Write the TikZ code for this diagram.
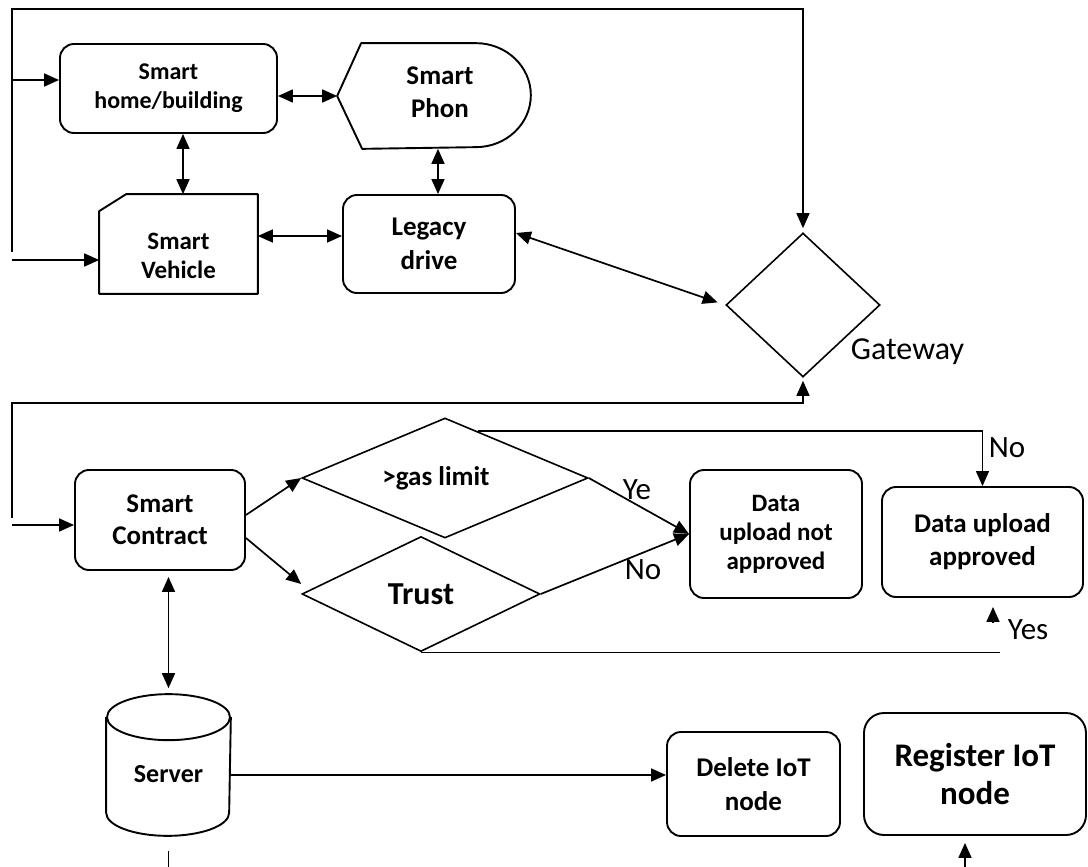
\documentclass[tikz,border=0pt]{standalone}
\usepackage{fontspec}
\setmainfont{Carlito}
\usetikzlibrary{arrows.meta,shapes.geometric,calc}

\begin{document}
\begin{tikzpicture}[x=1pt,y=-1pt,
  line width=1.7pt,
  >={Triangle[length=15pt,width=13pt]},
  rbox/.style={draw, rounded corners=14pt, align=center, inner sep=0pt, line width=1.9pt},
  frame/.style={inner sep=0pt, align=center},
  outline/.style={line width=1.9pt, line join=round},
  txt/.style={inner sep=0pt, align=center},
  lbl/.style={font=\fontsize{31}{36}\selectfont, inner sep=0pt},
  dia/.style={draw, diamond, inner sep=0pt, line width=1.6pt},
  loop/.style={line width=1.4pt},
]
\useasboundingbox (0,0) rectangle (1088,867);

% ---------- upper device cluster ----------
\node[rbox, minimum width=217pt, minimum height=89pt,
      font=\fontsize{24}{29}\selectfont\bfseries] (home) at (168.5,88.5) {Smart\\home/building};

\node[frame, minimum width=192pt, minimum height=104pt] (phone) at (434,96) {};
\draw[outline] (phone.west) -- ([xshift=24pt]phone.north west) -- ([xshift=-55pt]phone.north east)
  arc[start angle=90, end angle=-90, x radius=55pt, y radius=52pt]
  -- ([xshift=25pt]phone.south west) -- cycle;
\node[txt, font=\fontsize{27}{33}\selectfont\bfseries] at (440,92) {Smart\\Phon};

\node[frame, minimum width=157pt, minimum height=98pt] (veh) at (178.5,244) {};
\draw[outline] (veh.south west) -- ([yshift=-17pt]veh.north west) -- ([xshift=27pt]veh.north west)
  -- (veh.north east) -- (veh.south east) -- cycle;
\node[txt, font=\fontsize{25}{29}\selectfont\bfseries] at ([yshift=-12pt]veh.center) {Smart\\Vehicle};

\node[rbox, minimum width=172pt, minimum height=98pt,
      font=\fontsize{27}{34}\selectfont\bfseries] (legacy) at (429,244) {Legacy\\drive};

\node[dia, minimum width=154pt, minimum height=144pt] (gw) at (803,305) {};
\node[lbl, font=\fontsize{32}{38}\selectfont, anchor=west] at (850,352) {Gateway};

% ---------- decision stage ----------
\node[rbox, minimum width=170pt, minimum height=100pt,
      font=\fontsize{27}{32}\selectfont\bfseries] (contract) at (160,520) {Smart\\Contract};

\node[dia, minimum width=286pt, minimum height=120pt] (gas) at (445,478) {};
\node[txt, font=\fontsize{27}{32}\selectfont\bfseries] at ([xshift=-9pt]gas.center) {>gas limit};
\node[dia, minimum width=238pt, minimum height=115pt,
      font=\fontsize{32}{38}\selectfont\bfseries] (trust) at (421,594) {Trust};

\node[rbox, minimum width=172pt, minimum height=128pt,
      font=\fontsize{25}{29}\selectfont\bfseries] (nap) at (776,534) {Data\\upload not\\approved};
\node[rbox, minimum width=201pt, minimum height=110pt,
      font=\fontsize{27}{33}\selectfont\bfseries] (appr) at (982.5,542) {Data upload\\approved};

% ---------- storage and node management ----------
\node[frame, minimum width=123pt, minimum height=140pt] (server) at (168.5,765) {};
\draw[outline] ([yshift=-23pt]server.north) ellipse [x radius=61.5pt, y radius=23pt];
\draw[outline] ([yshift=-23pt]server.north west) -- ([yshift=23pt]server.south west)
  arc[start angle=180, end angle=360, x radius=61.5pt, y radius=23pt]
  -- ([yshift=-23pt]server.north east);
\node[txt, font=\fontsize{26}{31}\selectfont\bfseries] at ([yshift=-9pt]server.center) {Server};

\node[rbox, minimum width=173pt, minimum height=104pt,
      font=\fontsize{27}{34}\selectfont\bfseries] (delete) at (753.5,784) {Delete IoT\\node};
\node[rbox, rounded corners=20pt, minimum width=222pt, minimum height=122pt,
      font=\fontsize{33}{38}\selectfont\bfseries] (register) at (975,774) {Register IoT\\node};

% ---------- connectors: upper cluster ----------
\coordinate (tl) at (12,9);
\coordinate (tlb) at (12,252);
\draw[loop, ->, shorten >=4pt] (tlb) -- (tl) -| (gw.north);
\coordinate (hin) at ([yshift=8.5pt]home.west);
\draw[->] (hin -| tl) -- (hin);
\coordinate (vin) at ([yshift=-16pt]veh.west);
\draw[->] (vin -| tl) -- (vin);

\coordinate (hp) at (phone.west -| home.east);
\draw[<->] (hp) -- (phone.west);
\coordinate (hv) at ([xshift=4.5pt]veh.north);
\draw[<->] (hv |- home.south) -- (hv);
\coordinate (pl) at ([xshift=9pt]legacy.north);
\draw[<->] (pl |- phone.south) -- (pl);
\coordinate (vl) at ([yshift=8pt]legacy.west);
\draw[<->] (vl -| veh.east) -- (vl);
\draw[<->, shorten >=8pt] ([yshift=11pt]legacy.east) -- (gw.west);

% ---------- connectors: decision stage ----------
\coordinate (bl) at (12,403);
\coordinate (blb) at (12,518);
\draw[loop, ->, shorten >=3pt] (blb) -- (bl) -| (gw.south);
\coordinate (cin) at ([yshift=-5pt]contract.west);
\draw[->] (cin -| bl) -- (cin);

\draw[->] ([yshift=5pt]contract.east) -- (gas.west);
\draw[->] ([yshift=-18pt]contract.east) -- ([yshift=10pt]trust.west);

\draw[->] (gas.east) -- (nap.west);
\draw[->] (trust.east) -- (nap.west);
\node[lbl] at (637,490) {Ye};
\node[lbl] at (643,570) {No};

\coordinate (gs) at ($(gas.north)!0.23!(gas.east)$);
\draw[loop, ->] (gs) -| (appr.north);
\node[lbl, anchor=west] at (988,448) {No};

\coordinate (yesend) at (1000,652);
\draw[loop] (trust.south) -- (trust.south -| yesend);
\coordinate (yestip) at ([xshift=10.5pt, yshift=-9pt]appr.south);
\draw[->] ([yshift=-15pt]yestip) -- (yestip);
\node[lbl, anchor=west] at (1007,630) {Yes};

% ---------- connectors: server ----------
\draw[<->, shorten <=6pt, shorten >=6pt] (contract.south -| server.north) -- (server.north);
\coordinate (sd) at ([yshift=-10pt]server.east);
\draw[->] (sd) -- (sd -| delete.west);
\coordinate (sb) at (168.5,867);
\draw ([yshift=-15pt]server.south) -- (server.south |- sb);
\coordinate (rb) at (965,867);
\draw[->, shorten >=7pt] (rb) -- (rb |- register.south);
\end{tikzpicture}
\end{document}
